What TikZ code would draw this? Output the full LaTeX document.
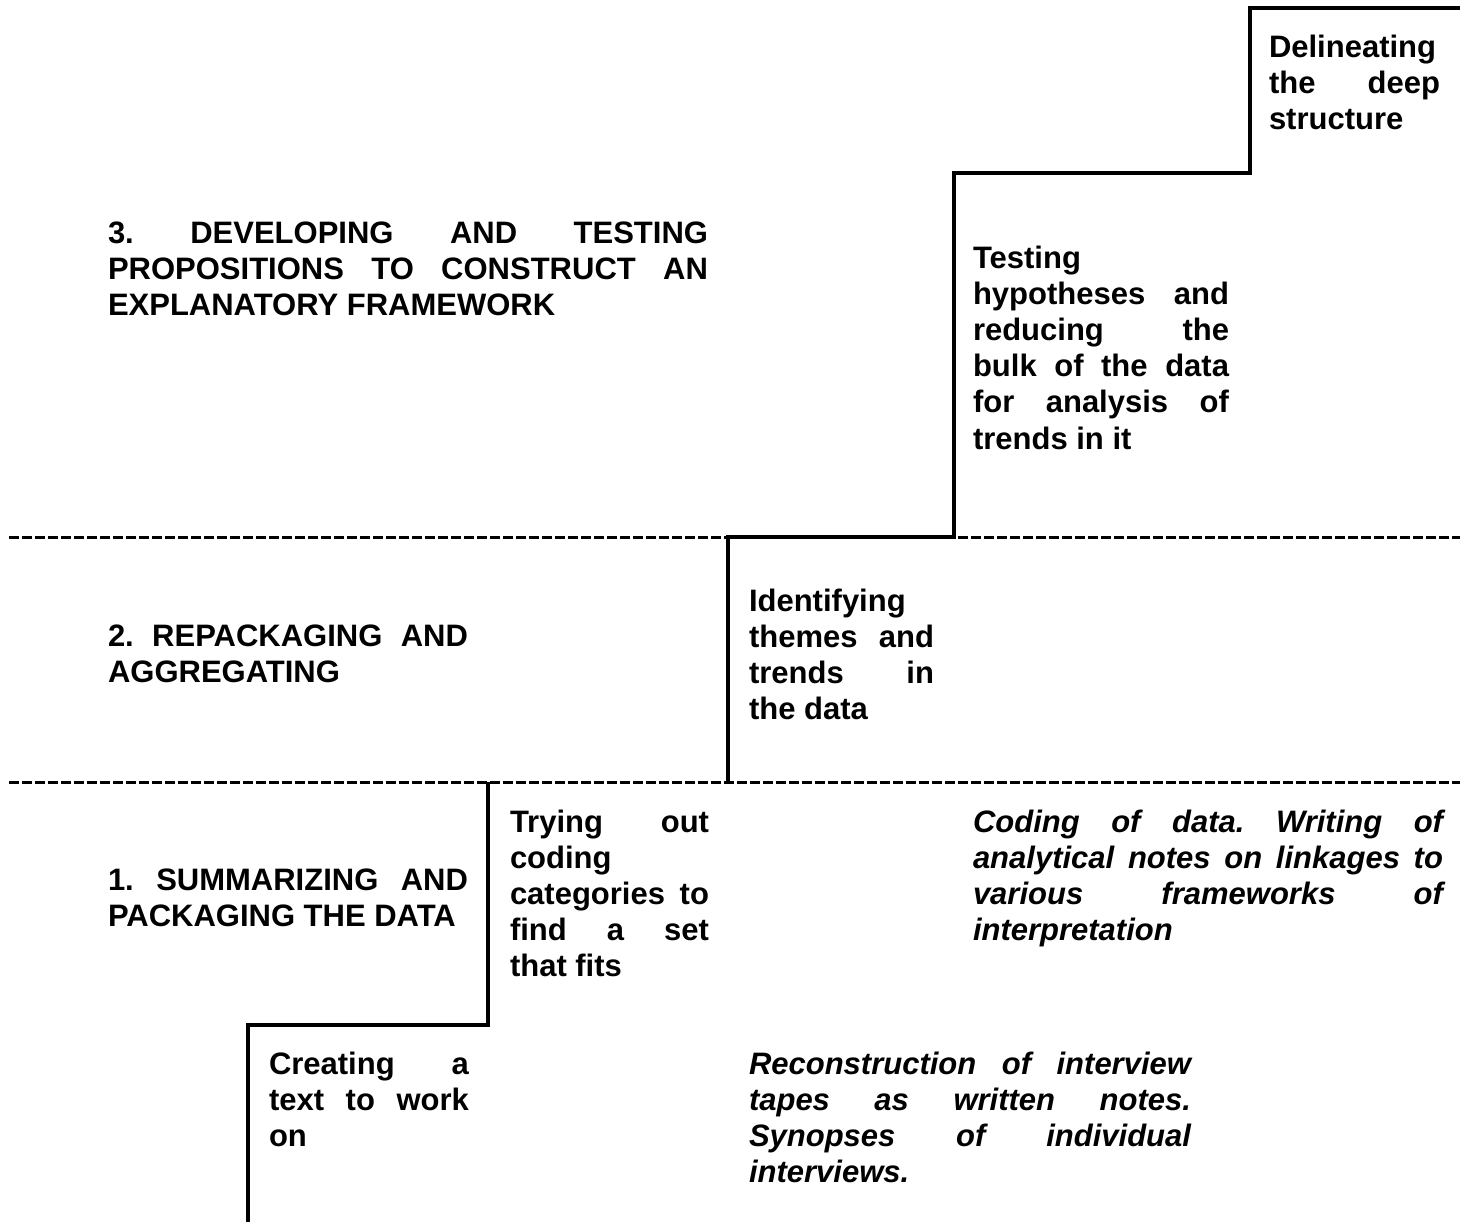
\documentclass[tikz,border=0pt]{standalone}
\usepackage{fontspec}
\setmainfont{Liberation Sans}
\begin{document}
\begin{tikzpicture}[x=0.5pt,y=-0.5pt,
  stagetext/.style={anchor=base west, inner sep=0pt, outer sep=0pt, align=justify,
    font=\bfseries\fontsize{15.5}{18.1}\selectfont},
  stageital/.style={stagetext, font=\bfseries\itshape\fontsize{15.5}{18.1}\selectfont},
  stairline/.style={line width=1.6pt, line join=miter},
  divider/.style={line width=1.5pt, dash pattern=on 5pt off 1.5pt}]
\useasboundingbox (0,0) rectangle (1463,1226);
\fill[white] (0,0) rectangle (1463,1226);
\hyphenpenalty=10000 \exhyphenpenalty=10000
% divider lines
\coordinate (d1a) at (9,537);  \coordinate (d1b) at (1460,537);
\coordinate (d2a) at (9,782);  \coordinate (d2b) at (1460,782);
\draw[divider] (d1a) -- (d1b);
\draw[divider] (d2a) -- (d2b);
% staircase corners
\coordinate (s0) at (248,1222);
\coordinate (s1) at (248,1025);
\coordinate (s2) at (488,1025);
\coordinate (s3) at (488,782);
\coordinate (s4) at (728,782);
\coordinate (s5) at (728,537);
\coordinate (s6) at (954,537);
\coordinate (s7) at (954,173);
\coordinate (s8) at (1250,173);
\coordinate (s9) at (1250,8);
\coordinate (s10) at (1460,8);
\draw[stairline] (s0) -- (s1) -- (s2) -- (s3);
\draw[stairline] (s4) -- (s5) -- (s6) -- (s7) -- (s8) -- (s9) -- (s10);
% texts
\node[stagetext, text width=85.5pt] (dl) at (1269,57)
  {Delineating\newline the~deep\linebreak structure};
\node[stagetext, text width=128pt] (ts) at (973,268)
  {Testing\newline hypotheses~and\linebreak reducing~the\linebreak bulk~of~the~data\linebreak for~analysis~of\linebreak trends~in~it};
\node[stagetext, text width=300pt] (dv) at (108,243)
  {3.~DEVELOPING~AND~TESTING\linebreak PROPOSITIONS~TO~CONSTRUCT~AN\linebreak EXPLANATORY~FRAMEWORK};
\node[stagetext, text width=180pt] (rp) at (108,646)
  {2.~REPACKAGING~AND\linebreak AGGREGATING};
\node[stagetext, text width=92.5pt] (id) at (749,611)
  {Identifying\newline themes~and\linebreak trends~in\linebreak the~data};
\node[stagetext, text width=180pt] (sm) at (108,890)
  {1.~SUMMARIZING~AND\linebreak PACKAGING~THE~DATA};
\node[stagetext, text width=99.5pt] (tr) at (510,832)
  {Trying~out\linebreak coding\newline categories~to\linebreak find~a~set\linebreak that~fits};
\node[stageital, text width=235pt] (cd) at (973,832)
  {Coding~of~data.~Writing~of\linebreak analytical~notes~on~linkages~to\linebreak various~frameworks~of\linebreak interpretation};
\node[stagetext, text width=100pt] (cr) at (269,1074)
  {Creating~a\linebreak text~to~work\linebreak on};
\node[stageital, text width=221pt] (rc) at (749,1074)
  {Reconstruction~of~interview\linebreak tapes~as~written~notes.\linebreak Synopses~of~individual\linebreak interviews.};
\end{tikzpicture}
\end{document}
